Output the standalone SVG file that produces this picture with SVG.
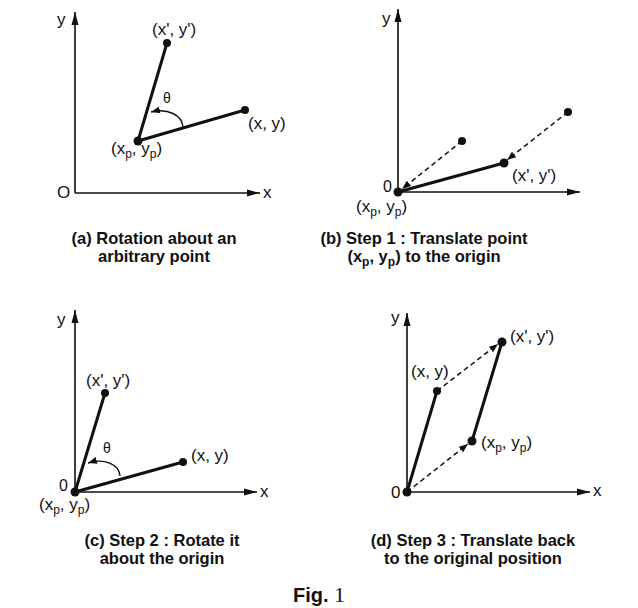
<svg xmlns="http://www.w3.org/2000/svg" width="638" height="608" viewBox="0 0 638 608">
<style>
.ax{stroke:#111;stroke-width:1.6;fill:none}
.seg{stroke:#111;stroke-width:3;fill:none;stroke-linecap:round}
.dash{stroke:#111;stroke-width:1.5;fill:none;stroke-dasharray:5 3.5}
.arc{stroke:#111;stroke-width:1.4;fill:none}
.dot{fill:#111}
text{font-family:"Liberation Sans",Arial,sans-serif;fill:#111}
.lb{font-size:17px}
.th{font-size:14px}
.ax-l{font-size:17px}
.org{font-size:16px}
.cap{font-size:16.5px;font-weight:bold;text-anchor:middle}
</style>
<defs>
<marker id="axh" markerUnits="userSpaceOnUse" markerWidth="14" markerHeight="10" refX="13" refY="5" orient="auto"><path d="M0,1.5 L13,5 L0,8.5 Z" fill="#111"/></marker>
<marker id="dh" markerUnits="userSpaceOnUse" markerWidth="10" markerHeight="8" refX="9" refY="4" orient="auto"><path d="M0,0.5 L9,4 L0,7.5 Z" fill="#111"/></marker>
</defs>
<rect width="638" height="608" fill="#fff"/>

<g id="panel-a">
<path class="ax" d="M75,193 V12" marker-end="url(#axh)"/>
<path class="ax" d="M75,193 H260" marker-end="url(#axh)"/>
<text class="ax-l" x="57" y="25">y</text>
<text class="ax-l" x="57" y="198">O</text>
<text class="ax-l" x="263" y="198">x</text>
<path class="seg" d="M138,141 L167,43 M138,141 L245,110"/>
<circle class="dot" cx="167" cy="43" r="4"/>
<circle class="dot" cx="138" cy="141" r="4.5"/>
<circle class="dot" cx="245" cy="110" r="4"/>
<path class="arc" d="M183,127 C182,115 168,108 151,112" marker-end="url(#dh)"/>
<text class="th" x="163" y="103">θ</text>
<text class="lb" x="152" y="35">(x', y')</text>
<text class="lb" x="248" y="129">(x, y)</text>
<text class="lb" x="111" y="154">(x<tspan dy="4" font-size="12">p</tspan><tspan dy="-4">, y</tspan><tspan dy="4" font-size="12">p</tspan><tspan dy="-4">)</tspan></text>
</g>

<g id="panel-b">
<path class="ax" d="M398,192 V9" marker-end="url(#axh)"/>
<path class="ax" d="M398,192 H580" marker-end="url(#axh)"/>
<text class="ax-l" x="382" y="24">y</text>
<text class="org" x="383" y="192">0</text>
<path class="seg" d="M398,192 L504,163"/>
<path class="dash" d="M462,141 L402,189" marker-end="url(#dh)"/>
<path class="dash" d="M568,112 L507,160" marker-end="url(#dh)"/>
<circle class="dot" cx="462" cy="141" r="4"/>
<circle class="dot" cx="568" cy="112" r="4"/>
<circle class="dot" cx="504" cy="163" r="4.5"/>
<circle class="dot" cx="398" cy="192" r="4.5"/>
<text class="lb" x="512" y="181">(x', y')</text>
<text class="lb" x="356" y="212">(x<tspan dy="4" font-size="12">p</tspan><tspan dy="-4">, y</tspan><tspan dy="4" font-size="12">p</tspan><tspan dy="-4">)</tspan></text>
</g>

<g id="panel-c">
<path class="ax" d="M75,492 V310" marker-end="url(#axh)"/>
<path class="ax" d="M75,492 H257" marker-end="url(#axh)"/>
<text class="ax-l" x="57" y="325">y</text>
<text class="org" x="59" y="491">0</text>
<text class="ax-l" x="260" y="497">x</text>
<path class="seg" d="M75,492 L105,393 M75,492 L183,462"/>
<circle class="dot" cx="105" cy="393" r="4"/>
<circle class="dot" cx="183" cy="462" r="4"/>
<circle class="dot" cx="75" cy="492" r="4.5"/>
<path class="arc" d="M120,476 C119,464 104,458 88,463" marker-end="url(#dh)"/>
<text class="th" x="103" y="453">θ</text>
<text class="lb" x="86" y="386">(x', y')</text>
<text class="lb" x="191" y="461">(x, y)</text>
<text class="lb" x="39" y="510">(x<tspan dy="4" font-size="12">p</tspan><tspan dy="-4">, y</tspan><tspan dy="4" font-size="12">p</tspan><tspan dy="-4">)</tspan></text>
</g>

<g id="panel-d">
<path class="ax" d="M407,492 V313" marker-end="url(#axh)"/>
<path class="ax" d="M407,492 H590" marker-end="url(#axh)"/>
<text class="ax-l" x="391" y="323">y</text>
<text class="ax-l" x="391" y="498">0</text>
<text class="ax-l" x="593" y="496">x</text>
<path class="seg" d="M407,492 L437,391 M472,441 L502,342"/>
<path class="dash" d="M437,391 L498,344" marker-end="url(#dh)"/>
<path class="dash" d="M407,492 L468,444" marker-end="url(#dh)"/>
<circle class="dot" cx="437" cy="391" r="4"/>
<circle class="dot" cx="502" cy="342" r="4.5"/>
<circle class="dot" cx="472" cy="441" r="4.5"/>
<circle class="dot" cx="407" cy="492" r="4.5"/>
<text class="lb" x="510" y="342">(x', y')</text>
<text class="lb" x="411" y="377">(x, y)</text>
<text class="lb" x="481" y="448">(x<tspan dy="4" font-size="12">p</tspan><tspan dy="-4">, y</tspan><tspan dy="4" font-size="12">p</tspan><tspan dy="-4">)</tspan></text>
</g>

<g id="captions">
<text class="cap" x="154" y="244">(a) Rotation about an</text>
<text class="cap" x="154" y="262">arbitrary point</text>
<text class="cap" x="424" y="244">(b) Step 1 : Translate point</text>
<text class="cap" x="424" y="262">(x<tspan dy="4" font-size="12">p</tspan><tspan dy="-4">, y</tspan><tspan dy="4" font-size="12">p</tspan><tspan dy="-4">) to the origin</tspan></text>
<text class="cap" x="162" y="546">(c) Step 2 : Rotate it</text>
<text class="cap" x="162" y="564">about the origin</text>
<text class="cap" x="473" y="546">(d) Step 3 : Translate back</text>
<text class="cap" x="473" y="564">to the original position</text>
<text x="293" y="602" font-size="20" font-weight="bold">Fig.<tspan font-family="Liberation Serif,serif" font-weight="normal" font-size="22"> 1</tspan></text>
</g>
</svg>
